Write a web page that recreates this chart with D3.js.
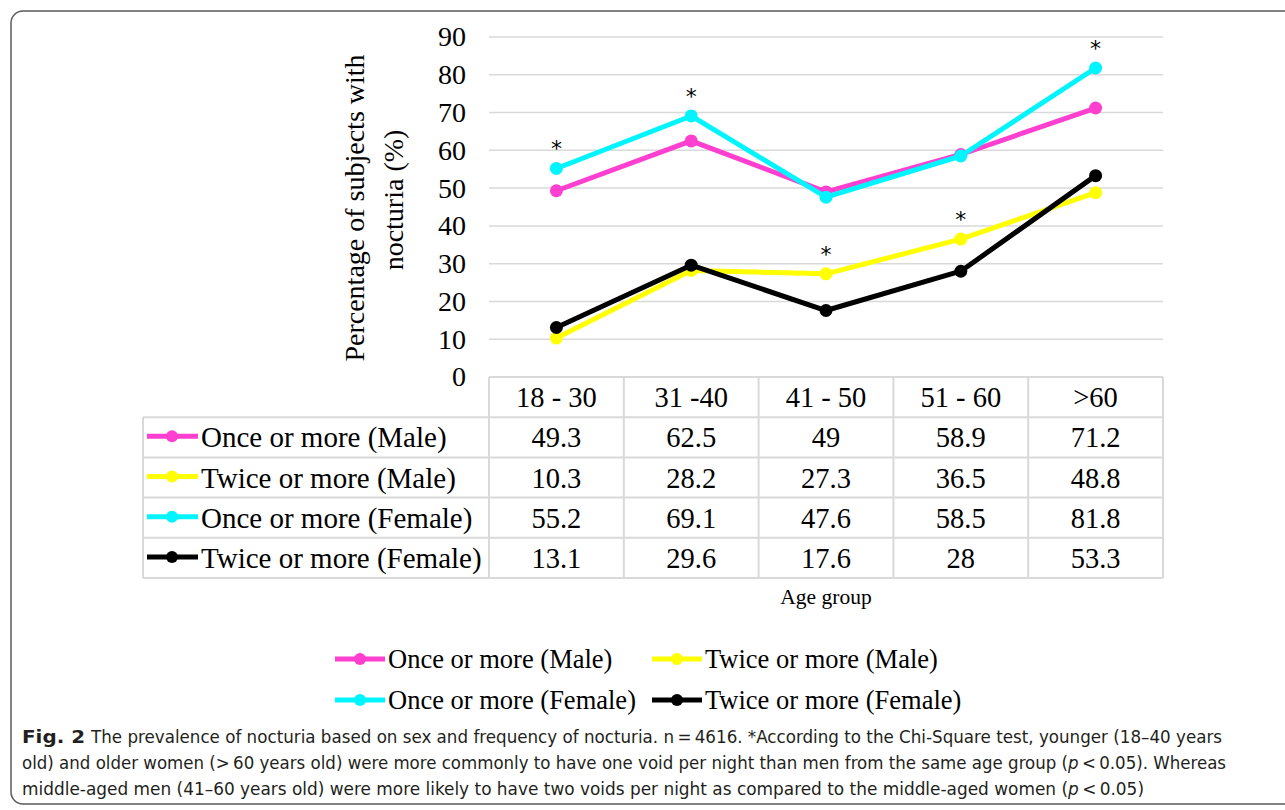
<!DOCTYPE html>
<html><head><meta charset="utf-8">
<script src="https://cdn.jsdelivr.net/npm/d3@7"></script>
<style>body{margin:0;background:#fff;} svg{display:block;}</style>
</head><body>
<svg id="c" width="1285" height="810"></svg>
<script>
const categories = ["18 - 30", "31 -40", "41 - 50", "51 - 60", ">60"];
const seriesNames = ["Once or more (Male)", "Twice or more (Male)", "Once or more (Female)", "Twice or more (Female)"];
const seriesColors = ["#ff3fcf", "#ffff00", "#00f5ff", "#000000"];
const onceMale = [49.3, 62.5, 49, 58.9, 71.2];
const twiceMale = [10.3, 28.2, 27.3, 36.5, 48.8];
const onceFemale = [55.2, 69.1, 47.6, 58.5, 81.8];
const twiceFemale = [13.1, 29.6, 17.6, 28, 53.3];
const yTicks = [0, 10, 20, 30, 40, 50, 60, 70, 80, 90];
// significance marks: [category index, series index]
const starMarks = [[0, 2], [1, 2], [2, 1], [3, 1], [4, 2]];
const captionBold = "Fig. 2";
// each caption line split into parts; parts marked "i:" are italic
const captionLines = [
  ["The prevalence of nocturia based on sex and frequency of nocturia. n\u2009=\u20094616. *According to the Chi-Square test, younger (18\u201340 years"],
  ["old) and older women (>\u200960 years old) were more commonly to have one void per night than men from the same age group (", "i:p", "\u2009<\u20090.05). Whereas"],
  ["middle-aged men (41\u201360 years old) were more likely to have two voids per night as compared to the middle-aged women (", "i:p", "\u2009<\u20090.05)"]
];

const series = [onceMale, twiceMale, onceFemale, twiceFemale];
const svg = d3.select("#c");
const serif = "'Liberation Serif','Times New Roman',serif";

// frame
svg.append("rect").attr("x", 11).attr("y", 11).attr("width", 1300).attr("height", 793)
  .attr("rx", 12).attr("fill", "none").attr("stroke", "#5a5a5a").attr("stroke-width", 1.5);

const x0 = 489, x1 = 1163;
const x = d3.scaleBand().domain(categories).range([x0, x1]);
const y = d3.scaleLinear().domain([0, 90]).range([377, 37]);

// gridlines
svg.append("g").selectAll("line").data(yTicks).join("line")
  .attr("x1", x0).attr("x2", x1).attr("y1", d => y(d)).attr("y2", d => y(d))
  .attr("stroke", "#d9d9d9").attr("stroke-width", 1.5);

// y axis labels
const yAxis = d3.axisLeft(y).tickValues(yTicks).tickSize(0).tickPadding(0);
const ga = svg.append("g").attr("transform", "translate(466,0)").call(yAxis);
ga.select(".domain").remove();
ga.selectAll("text").attr("font-family", serif).attr("font-size", 28).attr("fill", "#000");

// y title
svg.append("text").attr("transform", "translate(364,208) rotate(-90)")
  .attr("font-family", serif).attr("font-size", 28).attr("text-anchor", "middle").text("Percentage of subjects with");
svg.append("text").attr("transform", "translate(403,200) rotate(-90)")
  .attr("font-family", serif).attr("font-size", 28).attr("text-anchor", "middle").text("nocturia (%)");

// lines
const cx = d => x(d) + x.bandwidth() / 2;
const line = d3.line().x((d, i) => cx(categories[i])).y(d => y(d));
series.forEach((s, k) => {
  const g = svg.append("g");
  g.append("path").datum(s).attr("d", line).attr("fill", "none")
    .attr("stroke", seriesColors[k]).attr("stroke-width", 5).attr("stroke-linejoin", "round");
  g.selectAll("circle").data(s).join("circle")
    .attr("cx", (d, i) => cx(categories[i])).attr("cy", d => y(d)).attr("r", 6.5)
    .attr("fill", seriesColors[k]);
});

// stars
svg.append("g").selectAll("text").data(starMarks).join("text")
  .attr("x", d => cx(categories[d[0]])).attr("y", d => y(series[d[1]][d[0]]) - 12)
  .attr("text-anchor", "middle").attr("font-family", "'DejaVu Sans',sans-serif").attr("font-size", 22)
  .text("*");

// table
const tLeft = 143, rowH = 40.2, tTop = 377;
const tb = svg.append("g");
const gridC = "#d9d9d9";
for (let r = 0; r <= 5; r++) {
  tb.append("line").attr("x1", r === 0 ? x0 : tLeft).attr("x2", x1)
    .attr("y1", tTop + r * rowH).attr("y2", tTop + r * rowH).attr("stroke", gridC).attr("stroke-width", 2);
}
tb.append("line").attr("x1", tLeft).attr("x2", tLeft).attr("y1", tTop + rowH).attr("y2", tTop + 5 * rowH).attr("stroke", gridC).attr("stroke-width", 2);
categories.concat([null]).forEach((c) => {
  const xx = c === null ? x1 : x(c);
  tb.append("line").attr("x1", xx).attr("x2", xx).attr("y1", tTop).attr("y2", tTop + 5 * rowH).attr("stroke", gridC).attr("stroke-width", 2);
});
tb.selectAll("text.h").data(categories).join("text").attr("class", "h")
  .attr("x", d => cx(d)).attr("y", tTop + rowH / 2 + 10).attr("text-anchor", "middle")
  .attr("font-family", serif).attr("font-size", 28.5).text(d => d);
series.forEach((s, k) => {
  const ry = tTop + (k + 1) * rowH + rowH / 2;
  tb.selectAll("text.v" + k).data(s).join("text").attr("class", "v" + k)
    .attr("x", (d, i) => cx(categories[i])).attr("y", ry + 10).attr("text-anchor", "middle")
    .attr("font-family", serif).attr("font-size", 28.5).text(d => d);
  tb.append("line").attr("x1", 147).attr("x2", 198).attr("y1", ry - 1).attr("y2", ry - 1)
    .attr("stroke", seriesColors[k]).attr("stroke-width", 5);
  tb.append("circle").attr("cx", 172).attr("cy", ry - 1).attr("r", 6).attr("fill", seriesColors[k]);
  tb.append("text").attr("x", 201).attr("y", ry + 10).attr("font-family", serif).attr("font-size", 29).text(seriesNames[k]);
});

// x axis title
svg.append("text").attr("x", 826).attr("y", 604).attr("text-anchor", "middle")
  .attr("font-family", serif).attr("font-size", 21.5).text("Age group");

// legend
const legPos = [[335, 659], [652, 659], [335, 700], [652, 700]];
series.forEach((s, k) => {
  const [lx, ly] = legPos[k];
  svg.append("line").attr("x1", lx).attr("x2", lx + 50).attr("y1", ly).attr("y2", ly)
    .attr("stroke", seriesColors[k]).attr("stroke-width", 5);
  svg.append("circle").attr("cx", lx + 25).attr("cy", ly).attr("r", 6).attr("fill", seriesColors[k]);
  svg.append("text").attr("x", lx + 53).attr("y", ly + 9).attr("font-family", serif).attr("font-size", 26.5).text(seriesNames[k]);
});

// caption
const capFont = "'DejaVu Sans Condensed','Liberation Sans Narrow','Open Sans',sans-serif";
const capColor = "#231f20";
svg.append("text").attr("x", 22).attr("y", 743).attr("font-family", capFont).attr("font-weight", "bold")
  .attr("font-size", 18).attr("fill", capColor).attr("textLength", 63).attr("lengthAdjust", "spacingAndGlyphs").text(captionBold);
const capStarts = [91, 22, 22];
const capEnds = [1222, 1226, 1144];
captionLines.forEach((parts, i) => {
  const t = svg.append("text").attr("x", capStarts[i]).attr("y", 743 + i * 26).attr("font-family", capFont)
    .attr("font-size", 18).attr("fill", capColor)
    .attr("textLength", capEnds[i] - capStarts[i]).attr("lengthAdjust", "spacingAndGlyphs");
  parts.forEach(p => {
    const it = p.startsWith("i:");
    t.append("tspan").attr("font-style", it ? "italic" : "normal").text(it ? p.slice(2) : p);
  });
});
</script>
</body></html>
